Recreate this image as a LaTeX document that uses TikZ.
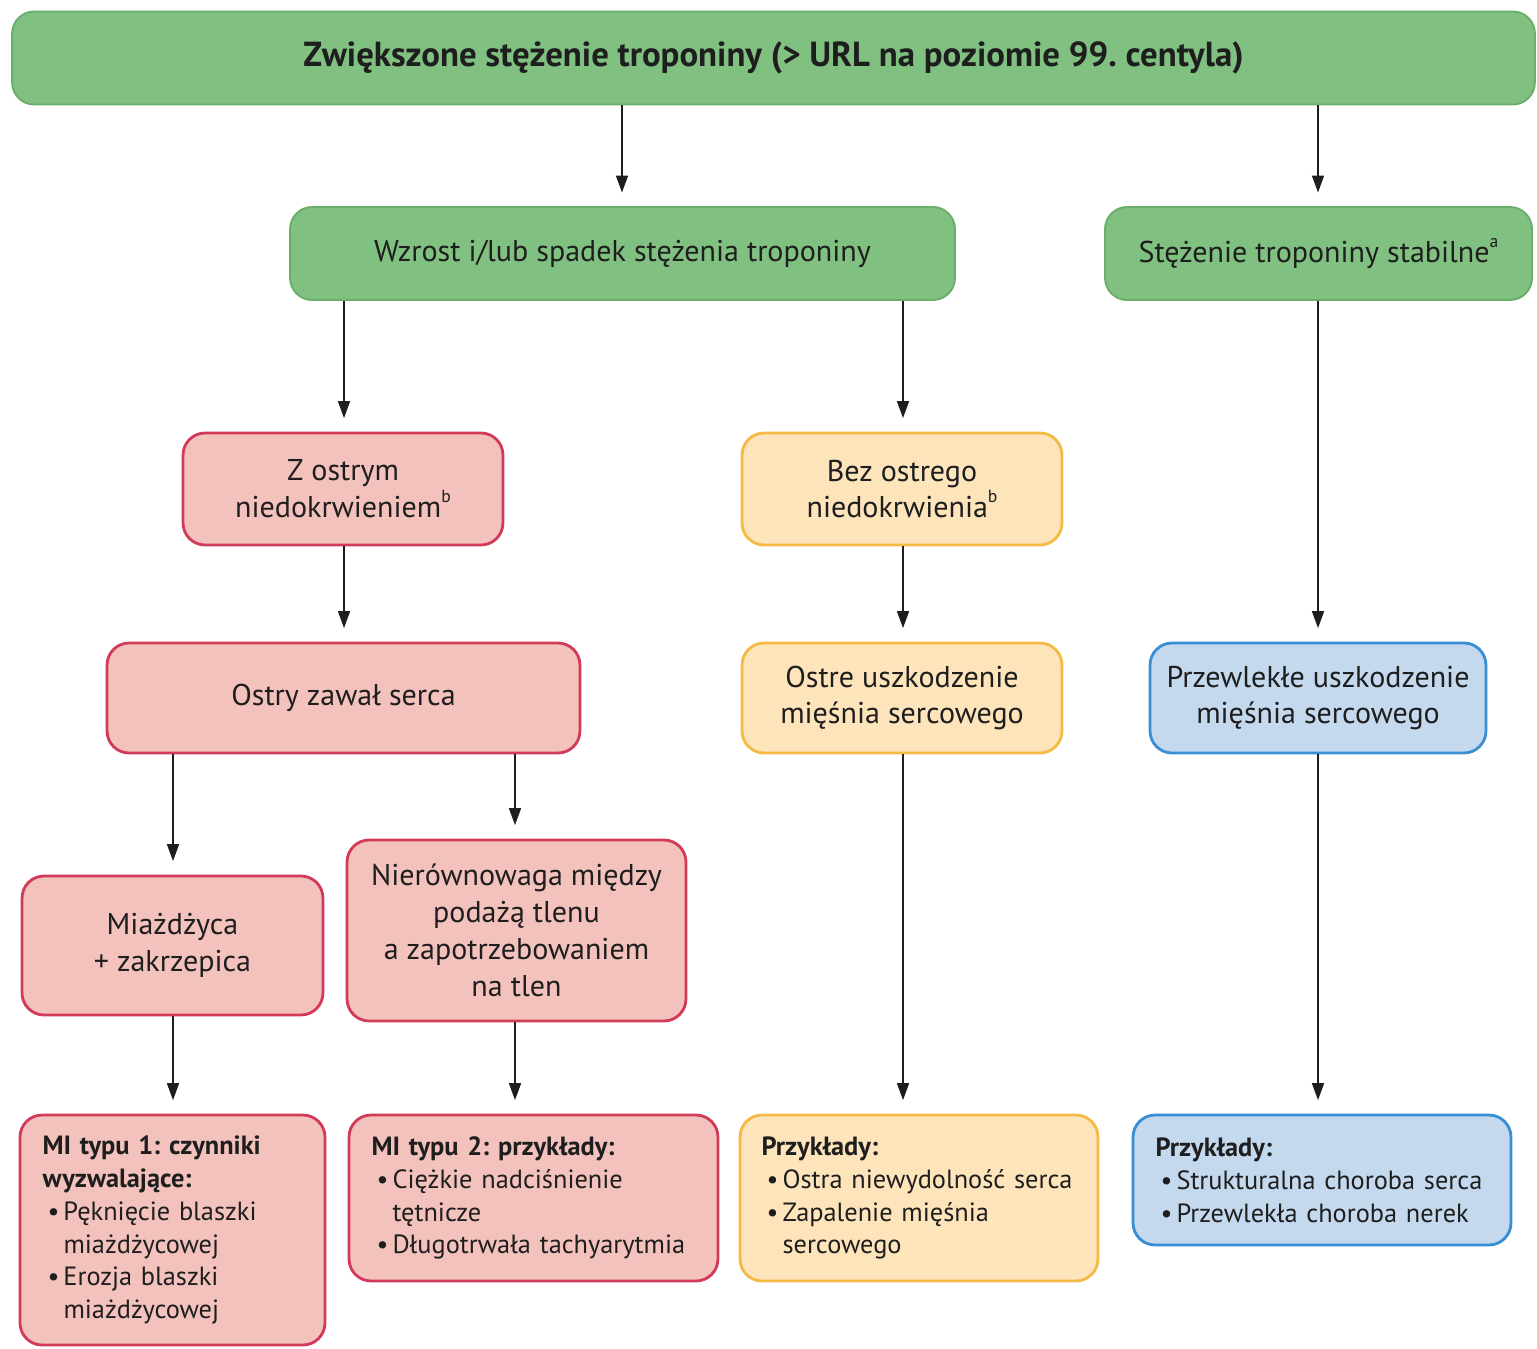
\documentclass[tikz,border=0pt]{standalone}
\usepackage{fontspec}
\setmainfont{PT Sans}
\usetikzlibrary{arrows.meta}
\frenchspacing
\definecolor{grfill}{HTML}{80C080}
\definecolor{grline}{HTML}{6AAE6A}
\definecolor{pkfill}{HTML}{F3C2BC}
\definecolor{pkline}{HTML}{D23A5A}
\definecolor{ylfill}{HTML}{FDE4BA}
\definecolor{ylline}{HTML}{F4BA45}
\definecolor{blfill}{HTML}{C4D8EE}
\definecolor{blline}{HTML}{3A8ED2}
\definecolor{ink}{HTML}{1E1E1E}
\newcommand\itm{\hspace*{0.1cm}\makebox[0.32cm][l]{•}}
\newcommand\ind{\hspace*{0.42cm}}
\newcommand\fn[1]{\raisebox{0.5em}{\fontsize{10}{10}\selectfont #1}}
\tikzset{
  box/.style={rectangle, rounded corners=0.44cm, line width=1.6pt, align=center,
    text=ink, inner sep=0pt, font=\fontsize{17.1}{21}\selectfont},
  green/.style={box, fill=grfill, draw=grline, line width=1.1pt},
  pink/.style={box, fill=pkfill, draw=pkline},
  yellow/.style={box, fill=ylfill, draw=ylline},
  blue/.style={box, fill=blfill, draw=blline},
  listbox/.style={align=left, inner xsep=0.45cm, inner ysep=0pt,
    font=\fontsize{15}{18.7}\selectfont},
  arr/.style={draw=ink, line width=0.9pt, shorten >=0.27cm,
    -{Triangle[length=0.34cm,width=0.24cm]}}
}
\begin{document}
\begin{tikzpicture}[x=0.02cm,y=-0.02cm]
\useasboundingbox (0,0) rectangle (1537,1348);

% top level
\node[green, minimum width=30.46cm, minimum height=1.86cm,
  font=\fontsize{19.8}{21}\selectfont\bfseries] (top) at (773.5,58)
  {Zwiększone stężenie troponiny (> URL na poziomie 99. centyla)};

% second level
\node[green, minimum width=13.3cm, minimum height=1.86cm] (wzrost) at (622.5,253.5)
  {Wzrost i/lub spadek stężenia troponiny};
\node[green, minimum width=8.54cm, minimum height=1.86cm] (stab) at (1318.5,253.5)
  {Stężenie troponiny stabilne\fn{a}};

% ischaemia
\node[pink, minimum width=6.4cm, minimum height=2.24cm] (zost) at (343,489)
  {Z ostrym\\niedokrwieniem\fn{b}};
\node[yellow, minimum width=6.4cm, minimum height=2.24cm] (bez) at (902,489)
  {Bez ostrego\\niedokrwienia\fn{b}};

% injury
\node[pink, minimum width=9.46cm, minimum height=2.2cm] (zawal) at (343.5,698)
  {Ostry zawał serca};
\node[yellow, minimum width=6.4cm, minimum height=2.2cm] (ostre) at (902,698)
  {Ostre uszkodzenie\\mięśnia sercowego};
\node[blue, minimum width=6.72cm, minimum height=2.2cm] (przew) at (1318,698)
  {Przewlekłe uszkodzenie\\mięśnia sercowego};

% mechanisms
\node[pink, minimum width=6.02cm, minimum height=2.78cm] (miaz) at (172.5,945.5)
  {Miażdżyca\\+ zakrzepica};
\node[pink, minimum width=6.78cm, minimum height=3.62cm] (nier) at (516.5,930.5)
  {Nierównowaga między\\podażą tlenu\\a zapotrzebowaniem\\na tlen};

% examples
\node[pink, listbox, text width=5.2cm, minimum height=4.6cm] (mi1) at (172.5,1230)
  {\textbf{MI typu 1: czynniki}\\\textbf{wyzwalające:}\\
   \itm Pęknięcie blaszki\\\ind miażdżycowej\\
   \itm Erozja blaszki\\\ind miażdżycowej};
\node[pink, listbox, text width=6.48cm, minimum height=3.32cm] (mi2) at (533.5,1198)
  {\textbf{MI typu 2: przykłady:}\\
   \itm Ciężkie nadciśnienie\\\ind tętnicze\\
   \itm Długotrwała tachyarytmia};
\node[yellow, listbox, text width=6.3cm, inner xsep=0.43cm, minimum height=3.32cm] (yel) at (919,1198)
  {\textbf{Przykłady:}\\
   \itm Ostra niewydolność serca\\
   \itm Zapalenie mięśnia\\\ind sercowego};
\node[blue, listbox, text width=6.66cm, minimum height=2.6cm] (blu) at (1322,1180)
  {\textbf{Przykłady:}\\
   \itm Strukturalna choroba serca\\
   \itm Przewlekła choroba nerek};

% connector columns
\coordinate (cA) at (173,0);
\coordinate (cB) at (344,0);
\coordinate (cC) at (515,0);
\coordinate (cD) at (622,0);
\coordinate (cE) at (903,0);
\coordinate (cF) at (1318,0);

\draw[arr] (top.south -| cD) -- (wzrost.north -| cD);
\draw[arr] (top.south -| cF) -- (stab.north -| cF);
\draw[arr] (wzrost.south -| cB) -- (zost.north -| cB);
\draw[arr] (wzrost.south -| cE) -- (bez.north -| cE);
\draw[arr] (stab.south -| cF) -- (przew.north -| cF);
\draw[arr] (zost.south -| cB) -- (zawal.north -| cB);
\draw[arr] (bez.south -| cE) -- (ostre.north -| cE);
\draw[arr] (zawal.south -| cA) -- (miaz.north -| cA);
\draw[arr] (zawal.south -| cC) -- (nier.north -| cC);
\draw[arr] (miaz.south -| cA) -- (mi1.north -| cA);
\draw[arr] (nier.south -| cC) -- (mi2.north -| cC);
\draw[arr] (ostre.south -| cE) -- (yel.north -| cE);
\draw[arr] (przew.south -| cF) -- (blu.north -| cF);
\end{tikzpicture}
\end{document}
